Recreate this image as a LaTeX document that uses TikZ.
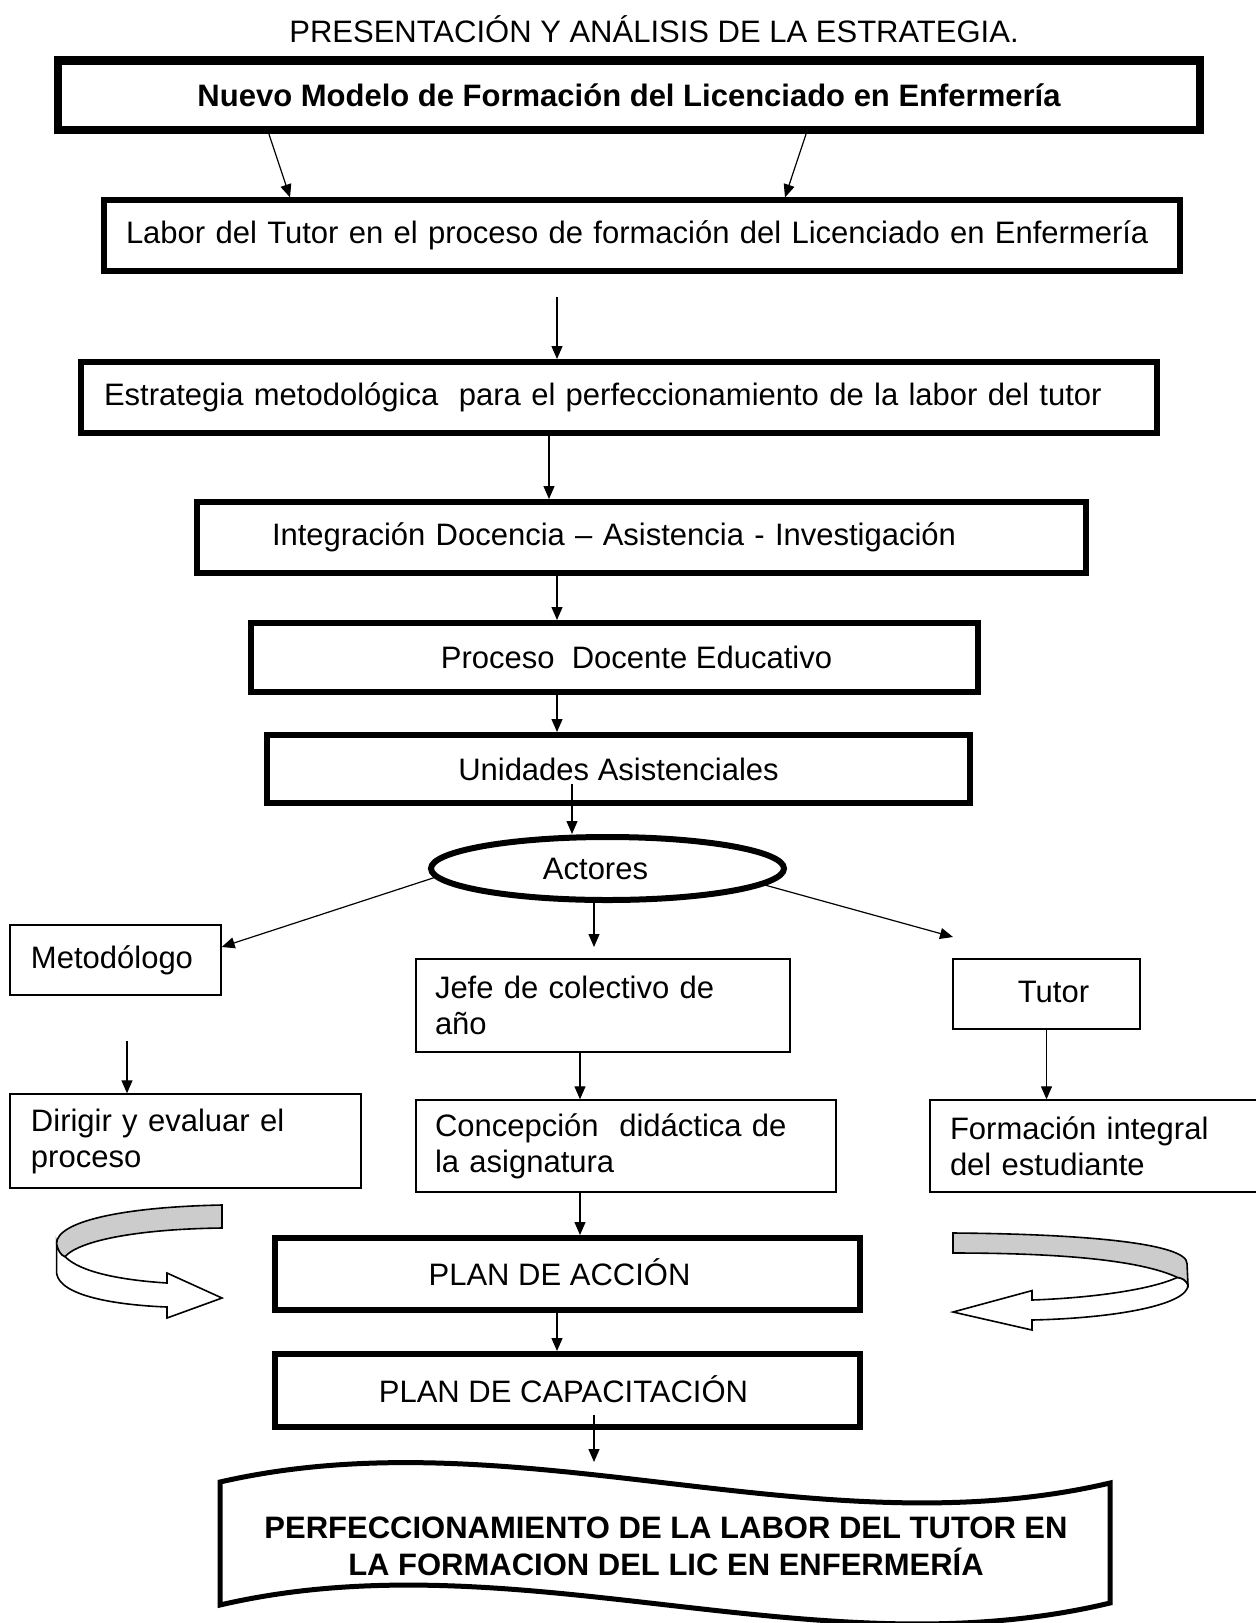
\documentclass[tikz,border=0pt]{standalone}
\usepackage{fontspec}
\setmainfont{Liberation Sans}
\usetikzlibrary{arrows.meta,shapes.geometric}

\begin{document}
\begin{tikzpicture}[x=1pt, y=-1pt,
  txt/.style={font=\fontsize{15.5}{18}\selectfont},
  caja/.style={draw, line width=3pt, inner sep=0pt, txt},
  cajafina/.style={draw, line width=0.7pt, inner sep=0pt, txt, align=left},
  flecha/.style={-{Triangle[length=6.5pt,width=5.5pt]}, line width=0.6pt}]
\useasboundingbox (0,0) rectangle (628,811.5);
\node[txt] (titulo) at (327,14.5) {PRESENTACIÓN Y ANÁLISIS DE LA ESTRATEGIA.};
\node[caja, line width=4.2pt, minimum width=571pt, minimum height=34.75pt, font=\fontsize{15.5}{18}\selectfont\bfseries] (nuevo) at (314.5,47.6) {Nuevo Modelo de Formación del Licenciado en Enfermería};
\node[caja, line width=2.6pt, minimum height=35.5pt, text width=516pt, inner xsep=11pt, align=left] (labor) at (321,117.75) {Labor del Tutor en el proceso de formación del Licenciado en Enfermería};
\node[caja, minimum height=35.5pt, text width=515pt, inner xsep=11.5pt, align=left] (estrategia) at (309.5,198.75) {Estrategia metodológica\ \ para el perfeccionamiento de la labor del tutor};
\node[caja, minimum height=35.5pt, text width=369.5pt, inner xsep=37.5pt, align=left] (integracion) at (320.75,268.75) {Integración Docencia – Asistencia - Investigación};
\node[caja, minimum width=363.5pt, minimum height=34.5pt] (proceso) at (307.25,328.75) {\hspace*{22pt}Proceso\ \ Docente Educativo};
\node[caja, minimum width=351.5pt, minimum height=34pt] (unidades) at (309.25,384.5) {Unidades Asistenciales};
\node[caja, ellipse, minimum width=176.5pt, minimum height=31.5pt] (actores) at (303.75,434.25) {\hspace*{-12pt}Actores};
\node[cajafina, minimum height=35pt, text width=84.5pt, inner xsep=10.5pt] (metodologo) at (57.75,480) {\raisebox{1.5pt}{Metodólogo}};
\node[cajafina, minimum height=46.5pt, text width=168pt, inner xsep=9.5pt] (jefe) at (301.5,502.75) {Jefe de colectivo de\\año};
\node[cajafina, minimum width=93.5pt, minimum height=35pt, align=center] (tutor) at (523.25,497) {\hspace*{7pt}\raisebox{2.5pt}{Tutor}};
\node[cajafina, minimum height=47pt, text width=154.5pt, inner xsep=10.5pt] (dirigir) at (92.75,570.5) {Dirigir y evaluar el\\proceso};
\node[cajafina, minimum height=46pt, text width=191pt, inner xsep=9.5pt] (concepcion) at (313,573) {Concepción\ \ didáctica de\\la asignatura};
\node[cajafina, minimum height=46pt, text width=155pt, inner xsep=10pt] (formacion) at (552.5,573) {Formación integral\\del estudiante};
\node[caja, minimum width=292.5pt, minimum height=36pt] (accion) at (283.75,637) {\hspace*{-8pt}\raisebox{1.5pt}{PLAN DE ACCIÓN}};
\node[caja, minimum width=292.5pt, minimum height=36.5pt] (capacitacion) at (283.75,695.25) {\hspace*{-4pt}\raisebox{1.5pt}{PLAN DE CAPACITACIÓN}};
\draw[line width=2.5pt] (110,741) .. controls (258,707) and (407,776) .. (555,741.5) -- (555,801.5) .. controls (407,837) and (258,768) .. (110,802.5) -- cycle;
\node[font=\fontsize{15.5}{18.5}\selectfont\bfseries, align=center] (perfeccionamiento) at (333,773.25) {PERFECCIONAMIENTO DE LA LABOR DEL TUTOR EN\\LA FORMACION DEL LIC EN ENFERMERÍA};
\coordinate (e1) at (278.5,148.5);
\coordinate (u1) at (286,392);
\coordinate (j1) at (297,473.5);
\coordinate (t1) at (476.5,468.5);
\coordinate (m1) at (63.5,520.5);
\coordinate (c1) at (297,707.5);
\coordinate (c2) at (297,731);
\draw[flecha] ([xshift=-180pt]nuevo.south) -- ([xshift=-176pt]labor.north);
\draw[flecha] ([xshift=88.5pt]nuevo.south) -- ([xshift=71.5pt]labor.north);
\draw[flecha] (e1) -- (e1 |- estrategia.north);
\draw[flecha] ([xshift=-35pt]estrategia.south) -- ([xshift=-46.25pt]integracion.north);
\draw[flecha] ([xshift=-42.25pt]integracion.south) -- ([xshift=-28.75pt]proceso.north);
\draw[flecha] ([xshift=-28.75pt]proceso.south) -- ([xshift=-30.75pt]unidades.north);
\draw[flecha] (u1) -- (u1 |- actores.north);
\draw[flecha] (actores.183) -- (metodologo.7);
\draw[flecha] (j1 |- actores.south) -- (j1);
\draw[flecha] (actores.-6) -- (t1);
\draw[flecha] (m1) -- (m1 |- dirigir.north);
\draw[flecha] ([xshift=-11.5pt]jefe.south) -- ([xshift=-23pt]concepcion.north);
\draw[flecha] (tutor.south) -- (tutor.south |- formacion.north);
\draw[flecha] ([xshift=-23pt]concepcion.south) -- ([xshift=6.25pt]accion.north);
\draw[flecha] ([xshift=-5.25pt]accion.south) -- ([xshift=-5.25pt]capacitacion.north);
\draw[flecha] (c1) -- (c2);
\draw[line width=0.8pt, fill=white] (28.3,621.7) -- (28.3,636.7) .. controls (30,648) and (58,652.5) .. (83.5,653.5) -- (83.5,659) -- (111,649) -- (83.5,636.5) -- (83.5,641.5) .. controls (60,640) and (40,636) .. (32.5,628.3) .. controls (30.5,627.5) and (29,625.5) .. (28.3,621.7) -- cycle;
\draw[line width=0.8pt, fill=black!20] (111,602.5) .. controls (60,603.5) and (28.3,611) .. (28.3,621.7) .. controls (29,625.5) and (30.5,627.5) .. (32.5,628.3) .. controls (40,620) and (70,614.5) .. (111,614) -- cycle;
\draw[line width=0.8pt, fill=white] (588.7,638.7) .. controls (575,645) and (545,649) .. (516,650) -- (516,645.3) -- (476.5,656) -- (516,665) -- (516,660) .. controls (560,659) and (594,652) .. (594,642.5) .. controls (593,640) and (591,639) .. (588.7,638.7) -- cycle;
\draw[line width=0.8pt, fill=black!20] (476.5,616.5) .. controls (545,617) and (593.5,622) .. (593.5,631.7) -- (594,642.5) .. controls (593,640) and (591,639) .. (588.7,638.7) .. controls (570,630) and (530,626.5) .. (476.5,626.5) -- cycle;
\end{tikzpicture}
\end{document}
